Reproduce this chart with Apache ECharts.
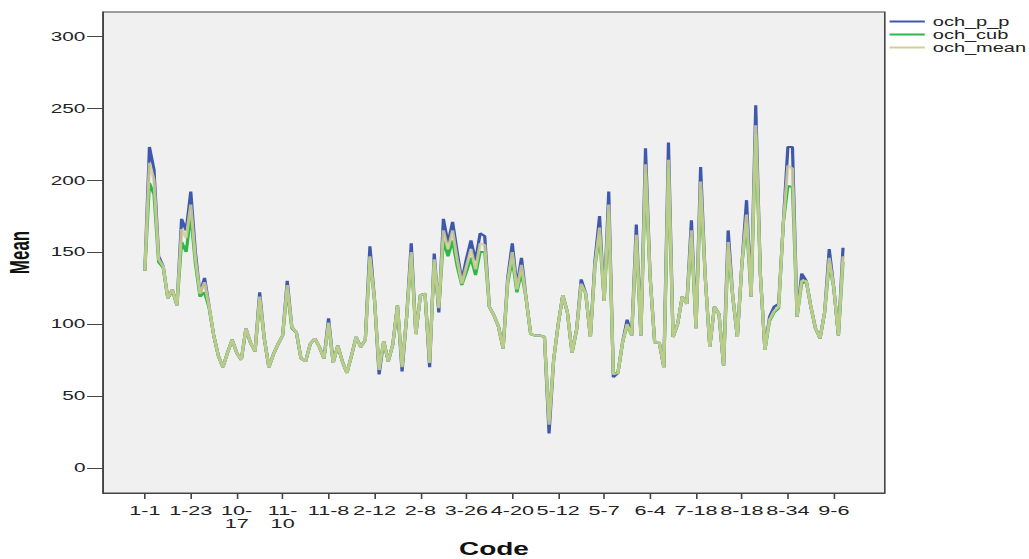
<!DOCTYPE html>
<html>
<head>
<meta charset="utf-8">
<script src="https://cdn.jsdelivr.net/npm/echarts@6/dist/echarts.min.js"></script>
<style>
  html, body { margin: 0; padding: 0; background: #fff; overflow: hidden; }
  /* the source picture is stretched sideways, so the chart is drawn narrow and widened */
  #main { width: 643px; height: 559px; transform: scaleX(1.6); transform-origin: 0 0; }
</style>
</head>
<body>
<div id="main"></div>
<script>
// labels shown under the x axis, one every labelStep codes
var tickLabels = ["1-1", "1-23", "10-17", "11-10", "11-8", "2-12", "2-8", "3-26",
  "4-20", "5-12", "5-7", "6-4", "7-18", "8-18", "8-34", "9-6"];
var labelStep = 10;
var yTicks = [0, 50, 100, 150, 200, 250, 300];

var ochPP = [
  137, 223, 207, 147, 140, 118, 124, 113, 173, 165,
  192, 150, 121, 132, 112, 92, 78, 70, 80, 89,
  80, 75, 97, 87, 81, 122, 90, 70, 79, 86,
  92, 130, 98, 94, 76, 74, 86, 90, 84, 76,
  104, 73, 85, 74, 66, 78, 91, 84, 89, 154,
  117, 65, 88, 74, 86, 113, 67, 105, 156, 93,
  120, 121, 70, 149, 108, 173, 156, 171, 150, 130,
  145, 158, 144, 163, 161, 112, 106, 98, 83, 132,
  156, 126, 146, 118, 93, 92, 92, 91, 24, 75,
  100, 120, 108, 80, 96, 131, 121, 91, 144, 175,
  116, 192, 63, 66, 87, 103, 92, 169, 92, 222,
  133, 87, 87, 70, 226, 91, 100, 119, 114, 172,
  97, 209, 133, 84, 112, 107, 71, 165, 119, 91,
  142, 186, 119, 252, 135, 82, 105, 112, 114, 170,
  223, 223, 105, 135, 130, 112, 97, 90, 108, 152,
  125, 92, 153
];
var ochCub = [
  137, 198, 190, 143, 139, 118, 123, 113, 157, 150,
  176, 142, 119, 122, 111, 92, 78, 70, 80, 89,
  80, 75, 96, 87, 81, 117, 90, 70, 79, 86,
  92, 124, 97, 94, 76, 74, 86, 90, 84, 76,
  100, 73, 85, 74, 66, 78, 91, 84, 89, 145,
  117, 69, 88, 74, 86, 113, 71, 105, 148, 93,
  120, 121, 74, 143, 112, 158, 147, 158, 140, 127,
  136, 146, 134, 150, 150, 112, 106, 98, 83, 128,
  145, 122, 136, 118, 93, 92, 92, 91, 33, 75,
  100, 120, 108, 80, 96, 127, 121, 91, 140, 162,
  116, 178, 66, 66, 87, 99, 92, 158, 92, 205,
  133, 87, 87, 70, 208, 91, 100, 119, 114, 160,
  97, 193, 133, 84, 112, 107, 71, 152, 119, 91,
  142, 170, 119, 232, 135, 82, 102, 108, 111, 170,
  196, 195, 105, 128, 130, 112, 97, 90, 108, 142,
  125, 92, 143
];
var ochMean = [
  137, 212, 200, 145, 140, 118, 124, 113, 166, 160,
  183, 146, 121, 129, 112, 92, 78, 70, 80, 89,
  80, 75, 97, 87, 81, 119, 90, 70, 79, 86,
  92, 127, 98, 94, 76, 74, 86, 90, 84, 76,
  101, 73, 85, 74, 66, 78, 91, 84, 89, 147,
  117, 68, 88, 74, 86, 113, 70, 105, 150, 93,
  120, 121, 73, 145, 111, 165, 152, 165, 145, 128,
  140, 152, 138, 156, 155, 112, 106, 98, 83, 130,
  150, 124, 141, 118, 93, 92, 92, 91, 30, 75,
  100, 120, 108, 80, 96, 128, 121, 91, 141, 167,
  116, 183, 65, 66, 87, 100, 92, 162, 92, 211,
  133, 87, 87, 70, 214, 91, 100, 119, 114, 165,
  97, 199, 133, 84, 112, 107, 71, 157, 119, 91,
  142, 176, 119, 238, 135, 82, 103, 109, 112, 170,
  210, 208, 105, 130, 130, 112, 97, 90, 108, 146,
  125, 92, 147
];

var font = "Liberation Sans";
var tickPos = tickLabels.map(function (_, k) { return k * labelStep; });

// point i sits at position i on the code axis
function toPairs (values) {
  return values.map(function (v, i) { return [i, v]; });
}

var chart = echarts.init(document.getElementById("main"), null, { renderer: "svg" });
chart.setOption({
  animation: false,
  color: ["#3E58AC", "#2EB848", "#D3CE97"],
  legend: {
    orient: "vertical",
    left: 551,
    top: 10,
    icon: "rect",
    itemWidth: 22,
    itemHeight: 2,
    itemGap: 0,
    textStyle: { fontFamily: font, fontSize: 12.5, color: "#222" },
    data: ["och_p_p", "och_cub", "och_mean"]
  },
  grid: {
    left: 64.4,
    right: 90,
    top: 12,
    bottom: 66,
    outerBoundsMode: "none",
    show: true,
    backgroundColor: "#f0f0f0",
    borderColor: "#444",
    borderWidth: 1
  },
  xAxis: {
    type: "value",
    min: -9.1,
    max: 161.1,
    name: "Code",
    nameLocation: "middle",
    nameGap: 47,
    nameTextStyle: { fontFamily: font, fontSize: 17.5, fontWeight: "bold", color: "#111" },
    axisLine: { show: true, onZero: false, lineStyle: { color: "#444" } },
    axisTick: { show: true, length: 6, customValues: tickPos, lineStyle: { color: "#444" } },
    axisLabel: {
      customValues: tickPos,
      margin: 10,
      fontFamily: font,
      fontSize: 13.5,
      lineHeight: 14,
      color: "#222",
      formatter: function (v) {
        var s = tickLabels[Math.round(v / labelStep)] || "";
        return s.length > 4 ? s.replace("-", "-\n") : s;
      }
    },
    splitLine: { show: false }
  },
  yAxis: {
    type: "value",
    min: -17.4,
    max: 316.7,
    name: "Mean",
    nameLocation: "middle",
    nameRotate: 90,
    nameGap: 44,
    nameTextStyle: { fontFamily: font, fontSize: 17, fontWeight: "bold", color: "#111" },
    axisLine: { show: true, onZero: false, lineStyle: { color: "#444" } },
    axisTick: { show: true, length: 10, customValues: yTicks, lineStyle: { color: "#444" } },
    axisLabel: { customValues: yTicks, margin: 11, fontFamily: font, fontSize: 13, color: "#222" },
    splitLine: { show: false }
  },
  series: [
    { name: "och_p_p", type: "line", symbol: "none", data: toPairs(ochPP), lineStyle: { width: 2 } },
    { name: "och_cub", type: "line", symbol: "none", data: toPairs(ochCub), lineStyle: { width: 2 } },
    { name: "och_mean", type: "line", symbol: "none", data: toPairs(ochMean), lineStyle: { width: 2, opacity: 0.85 } }
  ]
});
</script>
</body>
</html>
